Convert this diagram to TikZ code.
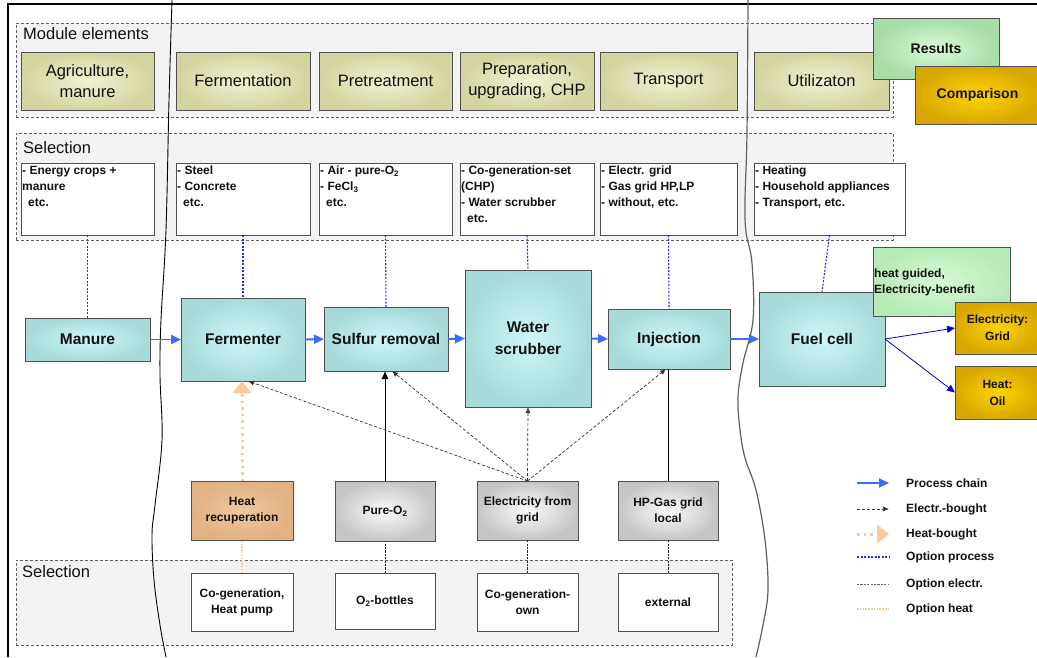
\documentclass[tikz,border=0pt]{standalone}
\usepackage{fontspec}
\setmainfont{Liberation Sans}
\usetikzlibrary{arrows.meta}
\definecolor{bordc}{HTML}{505050}
\definecolor{txt}{HTML}{111111}
\definecolor{modin}{HTML}{F2F2D4}
\definecolor{modout}{HTML}{D4D4A0}
\definecolor{procin}{HTML}{CCF7F7}
\definecolor{procout}{HTML}{A8DADA}
\definecolor{greyin}{HTML}{FAFAFA}
\definecolor{greyout}{HTML}{C6C6C6}
\definecolor{hrin}{HTML}{EEC89E}
\definecolor{hrout}{HTML}{E2B282}
\definecolor{resin}{HTML}{D8FAD8}
\definecolor{resout}{HTML}{A8DCA8}
\definecolor{hgin}{HTML}{D4FAD4}
\definecolor{hgout}{HTML}{B8EAB8}
\definecolor{goldin}{HTML}{FFD400}
\definecolor{goldout}{HTML}{D8A800}
\definecolor{grpfill}{HTML}{F3F3F3}
\definecolor{procblue}{HTML}{3A6CFF}
\definecolor{optblue}{HTML}{2828FF}
\definecolor{peach}{HTML}{FFC898}
\definecolor{wave}{HTML}{606060}
\newcommand\bx[7]{%
  \pgfmathsetmacro\cxA{(#3+#5)/2}\pgfmathsetmacro\cyA{(#4+#6)/2}%
  \pgfmathsetmacro\wA{#5-#3}\pgfmathsetmacro\hA{#6-#4}%
  \node[#1, minimum width=\wA pt, minimum height=\hA pt] (#2) at (\cxA,\cyA) {#7};}
\tikzset{
  bord/.style={draw=bordc, line width=0.9pt, outer sep=0pt, inner sep=0pt, text=txt},
  grp/.style={draw=bordc!90, fill=grpfill, line width=0.7pt, dash pattern=on 3pt off 2pt, outer sep=0pt, inner sep=0pt},
  modbox/.style={bord, inner color=modin, outer color=modout, font=\fontsize{16.5}{21}\selectfont, align=center},
  procbox/.style={bord, inner color=procin, outer color=procout, font=\bfseries\fontsize{15.5}{22}\selectfont, align=center},
  smallb/.style={font=\bfseries\fontsize{12}{16}\selectfont},
  greybox/.style={bord, smallb, inner color=greyin, outer color=greyout, align=center},
  hrbox/.style={bord, smallb, inner color=hrin, outer color=hrout, align=center},
  whitebox/.style={bord, smallb, fill=white, align=center},
  resbox/.style={bord, inner color=resin, outer color=resout, font=\bfseries\fontsize{14}{17}\selectfont, align=center},
  hgbox/.style={bord, inner color=hgin, outer color=hgout},
  goldbox/.style={bord, inner color=goldin, outer color=goldout, align=center},
  seltxt/.style={smallb, text=txt, align=left, inner sep=0pt, anchor=north west},
  title/.style={font=\fontsize{16.5}{20}\selectfont, text=txt, inner sep=0pt, anchor=base west},
  proc/.style={draw=procblue, line width=1.9pt, -{Triangle[length=10pt,width=9pt]}},
  elec/.style={draw=black!80, line width=0.7pt, dash pattern=on 3pt off 2pt, -{Latex[length=6pt,width=5pt]}},
  heat/.style={draw=peach, line width=3pt, dash pattern=on 2.5pt off 4pt, -{Triangle[length=12pt,width=18pt,fill=peach]}},
  optproc/.style={draw=optblue, line width=1.1pt, dash pattern=on 2pt off 1.5pt},
  optel/.style={draw=black!85, line width=0.6pt, dash pattern=on 2.2pt off 1.2pt},
  optheat/.style={draw=peach, line width=1.1pt, dash pattern=on 1.5pt off 1.3pt},
  outarrow/.style={draw=blue!85!black, line width=0.8pt, -{Triangle[length=8pt,width=7pt]}},
  legtxt/.style={smallb, text=txt, anchor=west, inner sep=0pt}
}
\begin{document}
\begin{tikzpicture}[x=1pt,y=-1pt]
\useasboundingbox (0,0) rectangle (1037,657);
\fill[white] (0,0) rectangle (1037,657);
% outer frame
\draw[line width=2pt] (8,657) -- (8,4) -- (1037,4);
% group boxes
\bx{grp}{gmod}{16}{23}{893}{117}{}
\bx{grp}{gsel}{16}{133}{893}{240}{}
\bx{grp}{gsel2}{16}{560}{732}{645}{}
\node[title] (tmod) at (23,39) {Module elements};
\node[title] (tsel) at (23,153) {Selection};
\node[title] (tsel2) at (22,577) {Selection};
% wavy lines
\draw[black, line width=0.9pt] plot[smooth, tension=0.6] coordinates {(172,0) (169,100) (166,230) (161,320) (160,375) (162,440) (155,505) (152,535) (154,580) (160,625) (166,657)};
\draw[wave, line width=1.2pt] plot[smooth, tension=0.6] coordinates {(748,0) (747,133) (745,200) (746,232) (752,263) (753,320) (743,363) (738,397) (740,430) (745,458) (756,490) (765,540) (768,590) (763,625) (756,657)};
% module elements
\bx{modbox}{m1}{21}{52}{154}{110}{Agriculture,\\manure}
\bx{modbox}{m2}{176}{52}{310}{110}{Fermentation}
\bx{modbox}{m3}{319}{52}{452}{110}{Pretreatment}
\bx{modbox}{m4}{460}{52}{594}{110}{Preparation,\\upgrading, CHP}
\bx{modbox}{m5}{600}{52}{737}{110}{Transport}
\bx{modbox}{m6}{754}{52}{889}{110}{Utilizaton}
\bx{resbox}{res}{873}{18}{999}{79}{Results}
\bx{goldbox, font=\bfseries\fontsize{14}{17}\selectfont}{cmp}{915}{66}{1040}{124}{Comparison}
% selection boxes
\bx{whitebox}{s1}{21}{163}{154}{235}{}
\bx{whitebox}{s2}{176}{163}{310}{235}{}
\bx{whitebox}{s3}{319}{163}{452}{235}{}
\bx{whitebox}{s4}{460}{163}{594}{235}{}
\bx{whitebox}{s5}{600}{163}{737}{235}{}
\bx{whitebox}{s6}{754}{163}{905}{235}{}
\node[seltxt] (s1t) at ([xshift=1pt,yshift=-3pt]s1.north west) {- Energy crops +\\manure\\\hspace{6pt}etc.};
\node[seltxt] (s2t) at ([xshift=1pt,yshift=-3pt]s2.north west) {- Steel\\- Concrete\\\hspace{6pt}etc.};
\node[seltxt] (s3t) at ([xshift=1pt,yshift=-3pt]s3.north west) {- Air - pure-O\textsubscript{2}\\- FeCl\textsubscript{3}\\\hspace{6pt}etc.};
\node[seltxt] (s4t) at ([xshift=1pt,yshift=-3pt]s4.north west) {- Co-generation-set\\(CHP)\\- Water scrubber\\\hspace{6pt}etc.};
\node[seltxt] (s5t) at ([xshift=1pt,yshift=-3pt]s5.north west) {- Electr. grid\\- Gas grid HP,LP\\- without, etc.};
\node[seltxt] (s6t) at ([xshift=1pt,yshift=-3pt]s6.north west) {- Heating\\- Household appliances\\- Transport, etc.};
% process chain
\bx{procbox}{man}{25}{318}{150}{361}{Manure}
\bx{procbox}{fer}{181}{298}{305}{381}{Fermenter}
\bx{procbox}{sul}{324}{307}{448}{371}{Sulfur removal}
\bx{procbox}{ws}{465}{270}{591}{407}{Water\\scrubber}
\bx{procbox}{inj}{608}{309}{730}{369}{Injection}
\bx{procbox}{fc}{759}{292}{885}{386}{Fuel cell}
\bx{hgbox}{hg}{873}{247}{1010}{316}{}
\node[smallb, text=txt, align=left, anchor=west, inner sep=0pt] (hgt) at ([xshift=1pt,yshift=-1pt]hg.west) {heat guided,\\Electricity-benefit};
\bx{goldbox, smallb, font=\bfseries\fontsize{12}{17}\selectfont}{grid}{955}{302}{1040}{354}{Electricity:\\Grid}
\bx{goldbox, smallb, font=\bfseries\fontsize{12}{17}\selectfont}{oil}{955}{366}{1040}{419}{Heat:\\Oil}
% bottom sources
\bx{hrbox}{hr}{191}{481}{293}{540}{Heat\\recuperation}
\bx{greybox}{po}{335}{481}{435}{541}{Pure-O\textsubscript{2}}
\bx{greybox}{eg}{477}{481}{578}{540}{Electricity from\\grid}
\bx{greybox}{hp}{618}{481}{718}{540}{HP-Gas grid\\local}
\bx{whitebox}{cg}{191}{573}{293}{631}{Co-generation,\\Heat pump}
\bx{whitebox}{ob}{335}{573}{435}{629}{O\textsubscript{2}-bottles}
\bx{whitebox}{co}{477}{573}{578}{631}{Co-generation-\\own}
\bx{whitebox}{ex}{618}{573}{718}{631}{external}
% option process lines
\draw[optproc] (s1.south) -- (man.north);
\draw[optproc] (s2.south) -- (fer.north);
\draw[optproc] (s3.south) -- (sul.north);
\draw[optproc] (s4.south) -- (ws.north);
\draw[optproc] (s5.south) -- (inj.north);
\draw[optproc] (s6.south) -- (fc.north);
% process arrows
\draw[proc] (man.east) -- (fer.west);
\draw[proc] (fer.east) -- (sul.west);
\draw[proc] (sul.east) -- (ws.west);
\draw[proc] (ws.east) -- (inj.west);
\draw[proc] (inj.east) -- (fc.west);
\draw[outarrow] (fc.east) -- (grid.west);
\draw[outarrow] (fc.east) -- (oil.west);
% supplies
\draw[heat] (hr.north) -- (hr.north |- fer.south);
\draw[black, line width=0.8pt, -{Latex[length=8pt,width=7pt]}] (po.north) -- (po.north |- sul.south);
\draw[black, line width=0.8pt] (hp.north) -- (hp.north |- inj.south);
\draw[elec] (eg.north) -- ([xshift=5pt]fer.south);
\draw[elec] (eg.north) -- ([xshift=6pt]sul.south);
\draw[elec] (eg.north) -- (ws.south);
\draw[elec] (eg.north) -- ([xshift=-3pt]inj.south);
% options
\draw[optheat] (cg.north) -- (hr.south);
\draw[optel] (ob.north) -- (po.south);
\draw[optel] (co.north) -- (eg.south);
\draw[optel] (ex.north) -- (hp.south);
% legend
\coordinate (l1a) at (857,483); \coordinate (l1b) at (889,483);
\coordinate (l2a) at (857,509); \coordinate (l2b) at (889,509);
\coordinate (l3a) at (857,534); \coordinate (l3b) at (889,534);
\coordinate (l4a) at (857,557); \coordinate (l4b) at (889,557);
\coordinate (l5a) at (857,584); \coordinate (l5b) at (889,584);
\coordinate (l6a) at (857,609); \coordinate (l6b) at (889,609);
\draw[proc] (l1a) -- (l1b);
\draw[elec] (l2a) -- (l2b);
\draw[heat] (l3a) -- (l3b);
\draw[optproc] (l4a) -- (l4b);
\draw[optel, draw=black!60] (l5a) -- (l5b);
\draw[optheat] (l6a) -- (l6b);
\node[legtxt] (t1) at (906,483) {Process chain};
\node[legtxt] (t2) at (906,509) {Electr.-bought};
\node[legtxt] (t3) at (906,534) {Heat-bought};
\node[legtxt] (t4) at (906,557) {Option process};
\node[legtxt] (t5) at (906,584) {Option electr.};
\node[legtxt] (t6) at (906,609) {Option heat};
\end{tikzpicture}
\end{document}
